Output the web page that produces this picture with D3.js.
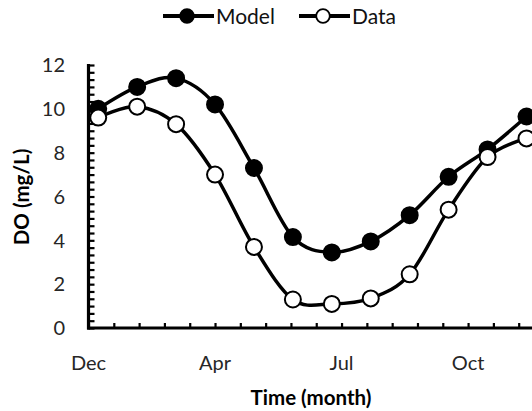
<!DOCTYPE html>
<html>
<head>
<meta charset="utf-8">
<script src="https://cdn.jsdelivr.net/npm/d3@7"></script>
<style>
  html, body { margin: 0; padding: 0; background: #fff; }
  svg { display: block; font-family: Lato, "Open Sans", sans-serif; }
</style>
</head>
<body>
<svg id="chart" width="532" height="411"></svg>
<script>
// Day of year (from start of December) for each sample
const days = [7, 35, 63, 91, 119, 147, 175, 203, 231, 259, 287, 315];
const modelValues = [10.0, 11.0, 11.4, 10.2, 7.3, 4.15, 3.45, 3.95, 5.15, 6.9, 8.15, 9.65];
const dataValues  = [9.6, 10.1, 9.3, 7.0, 3.7, 1.3, 1.1, 1.35, 2.45, 5.4, 7.8, 8.65];
const xTickDays = [0, 91, 182, 273];
const xTickLabels = ["Dec", "Apr", "Jul", "Oct"];
const yTicks = [0, 2, 4, 6, 8, 10, 12];
const seriesNames = ["Model", "Data"];

const svg = d3.select("#chart");
const x = d3.scaleLinear().domain([0, 365]).range([88.5, 596]);
const y = d3.scaleLinear().domain([0, 12]).range([328, 65]);

const axisColor = "#000";

// minor ticks
const xMinor = d3.range(0, 365, 91 / 5);
const yMinor = d3.range(0, 12.001, 1 / 3);

const xAxis = d3.axisBottom(x).tickValues(xMinor).tickSize(-5).tickFormat("");
const gx = svg.append("g").attr("transform", `translate(0,${y(0)})`).call(xAxis);
gx.select(".domain").remove();
gx.selectAll(".tick line").attr("stroke", axisColor).attr("stroke-width", 2.2);

const yAxis = d3.axisLeft(y).tickValues(yMinor).tickSize(-6).tickFormat("");
const gy = svg.append("g").attr("transform", `translate(${x(0)},0)`).call(yAxis);
gy.select(".domain").remove();
gy.selectAll(".tick line").attr("stroke", axisColor).attr("stroke-width", 2.2);

// axis lines
svg.append("line").attr("x1", x(0)).attr("x2", x(0)).attr("y1", y(12) - 1).attr("y2", y(0) + 1.5)
  .attr("stroke", axisColor).attr("stroke-width", 3.2);
svg.append("line").attr("x1", x(0) - 1.5).attr("x2", 600).attr("y1", y(0)).attr("y2", y(0))
  .attr("stroke", axisColor).attr("stroke-width", 3.2);

// tick labels
svg.append("g").selectAll("text").data(yTicks).join("text")
  .attr("x", 65).attr("y", d => y(d)).attr("dy", "0.36em")
  .attr("text-anchor", "end").attr("font-size", 20).attr("fill", "#262626")
  .text(d => d);

svg.append("g").selectAll("text").data(xTickDays).join("text")
  .attr("x", d => x(d)).attr("y", 370)
  .attr("text-anchor", "middle").attr("font-size", 20).attr("fill", "#262626")
  .text((d, i) => xTickLabels[i]);

// axis titles
svg.append("text").attr("x", 311).attr("y", 405).attr("text-anchor", "middle")
  .attr("font-size", 20.5).attr("font-weight", "bold").attr("fill", "#000").text("Time (month)");
svg.append("text").attr("transform", "translate(29,197) rotate(-90)").attr("text-anchor", "middle")
  .attr("font-size", 20.5).attr("font-weight", "bold").attr("fill", "#000").text("DO (mg/L)");

// series
const line = d3.line().x(d => x(d[0])).y(d => y(d[1])).curve(d3.curveCatmullRom.alpha(0));
const series = [
  { name: seriesNames[0], values: modelValues, fill: "#000" },
  { name: seriesNames[1], values: dataValues, fill: "#fff" }
];
series.forEach(s => {
  const pts = days.map((d, i) => [d, s.values[i]]);
  const g = svg.append("g");
  g.append("path").attr("d", line(pts)).attr("fill", "none").attr("stroke", "#000").attr("stroke-width", 3.5);
  g.selectAll("circle").data(pts).join("circle")
    .attr("cx", d => x(d[0])).attr("cy", d => y(d[1])).attr("r", 8)
    .attr("fill", s.fill).attr("stroke", "#000").attr("stroke-width", 2);
});

// legend
const legendItems = [
  { name: seriesNames[0], fill: "#000", x0: 163 },
  { name: seriesNames[1], fill: "#fff", x0: 299 }
];
legendItems.forEach(it => {
  const g = svg.append("g");
  g.append("line").attr("x1", it.x0).attr("x2", it.x0 + 51).attr("y1", 16).attr("y2", 16)
    .attr("stroke", "#000").attr("stroke-width", 4);
  g.append("circle").attr("cx", it.x0 + 24).attr("cy", 16).attr("r", 6.8)
    .attr("fill", it.fill).attr("stroke", "#000").attr("stroke-width", 1.8);
  g.append("text").attr("x", it.x0 + 53).attr("y", 16).attr("dy", "0.36em")
    .attr("font-size", 21).attr("fill", "#111").text(it.name);
});
</script>
</body>
</html>
